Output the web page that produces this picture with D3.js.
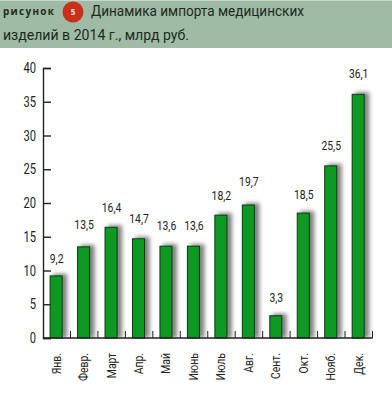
<!DOCTYPE html>
<html><head><meta charset="utf-8">
<script src="https://cdn.jsdelivr.net/npm/d3@7"></script>
<style>html,body{margin:0;padding:0;background:#fff}svg{display:block}text{font-family:Roboto,sans-serif}</style>
</head><body><div id="c"></div>
<script>
const months=["Янв.","Февр.","Март","Апр.","Май","Июнь","Июль","Авг.","Сент.","Окт.","Нояб.","Дек."];
const values=[9.2,13.5,16.4,14.7,13.6,13.6,18.2,19.7,3.3,18.5,25.5,36.1];
const labels=["9,2","13,5","16,4","14,7","13,6","13,6","18,2","19,7","3,3","18,5","25,5","36,1"];
const yTicks=[0,5,10,15,20,25,30,35,40];
const titleLines=["Динамика импорта медицинских","изделий в 2014 г., млрд руб."];

const svg=d3.select("#c").append("svg").attr("width",392).attr("height",395);
const f=svg.append("defs").append("filter").attr("id","sh").attr("x","-50%").attr("y","-10%").attr("width","220%").attr("height","120%");
f.append("feGaussianBlur").attr("stdDeviation",2);

// header
svg.append("rect").attr("width",392).attr("height",48).attr("fill","#9fbba5");
svg.append("rect").attr("width",392).attr("height",1).attr("fill","#c9d6cb");
svg.append("text").attr("x",3).attr("y",15).attr("font-size",10).attr("font-weight",700).attr("fill","#1c2a20")
 .style("font-family","'Open Sans',sans-serif").attr("textLength",51).text("рисунок");
svg.append("circle").attr("cx",73).attr("cy",12).attr("r",10.5).attr("fill","#c8301c");
svg.append("text").attr("x",73).attr("y",15).attr("text-anchor","middle").attr("font-size",8).attr("font-weight",700).attr("fill","#f6e3c8").style("font-family","'Open Sans',sans-serif").text("5");
svg.append("text").attr("x",91).attr("y",16).attr("font-size",15).attr("fill","#1c2a20").attr("textLength",213).attr("lengthAdjust","spacingAndGlyphs").text(titleLines[0]);
svg.append("text").attr("x",3).attr("y",40).attr("font-size",15).attr("fill","#1c2a20").attr("textLength",186).attr("lengthAdjust","spacingAndGlyphs").text(titleLines[1]);

const x=d3.scaleBand().domain(months).range([43,372.5]);
const y=d3.scaleLinear().domain([0,40]).range([338,68]);
const bw=12;
const cx=m=>x(m)+x.bandwidth()/2-0.6;
const labelGap=[12.5,17.5,15.5,15.5,16.5,16.5,15.5,19.5,13.5,14.5,15.5,16.5];
const squeeze=0.8;

const g=svg.append("g");
g.selectAll(".s").data(months).join("rect").attr("class","s")
 .attr("x",m=>cx(m)-bw/2+3).attr("width",bw+2)
 .attr("y",(m,i)=>y(values[i])-2).attr("height",(m,i)=>338-y(values[i])+2)
 .attr("fill","#808080").attr("filter","url(#sh)");
svg.append("rect").attr("x",0).attr("y",338.5).attr("width",392).attr("height",56).attr("fill","#fff");
const b=svg.append("g");
b.selectAll(".b").data(months).join("rect").attr("class","b")
 .attr("x",m=>cx(m)-bw/2).attr("width",bw)
 .attr("y",(m,i)=>y(values[i])).attr("height",(m,i)=>338-y(values[i]))
 .attr("fill","#0e9a22").attr("stroke","#0b3a14").attr("stroke-width",1);

const ya=svg.append("g").attr("transform","translate(43,0)").call(d3.axisRight(y).tickValues(yTicks).tickSize(8).tickFormat(""));
ya.select(".domain").attr("stroke","#222").attr("stroke-width",1.4);
ya.selectAll("line").attr("stroke","#222").attr("stroke-width",1.4);
svg.selectAll(".yl").data(yTicks).join("text").attr("class","yl")
 .attr("transform",d=>`translate(36,${y(d)+1.5}) scale(${squeeze},1)`).attr("text-anchor","end").attr("dominant-baseline","middle")
 .attr("font-size",14).attr("fill","#222").text(d=>d);

const base=svg.append("g");
base.append("line").attr("x1",43).attr("x2",372.5).attr("y1",338).attr("y2",338).attr("stroke","#222").attr("stroke-width",1.4);
base.selectAll("line.t").data(months).join("line").attr("class","t")
 .attr("x1",m=>x(m)+x.bandwidth()).attr("x2",m=>x(m)+x.bandwidth())
 .attr("y1",338).attr("y2",331).attr("stroke","#222").attr("stroke-width",1);

svg.selectAll(".v").data(months).join("text").attr("class","v")
 .attr("transform",(m,i)=>`translate(${cx(m)+0.5},${y(values[i])-labelGap[i]}) scale(${squeeze},1)`)
 .attr("text-anchor","middle").attr("font-size",13).attr("fill","#222").text((m,i)=>labels[i]);

svg.selectAll(".m").data(months).join("text").attr("class","m")
 .attr("transform",m=>`translate(${cx(m)+4.5},353) rotate(-90) scale(${squeeze},1)`)
 .attr("text-anchor","end").attr("font-size",13).attr("fill","#222").text(m=>m);
</script></body></html>
